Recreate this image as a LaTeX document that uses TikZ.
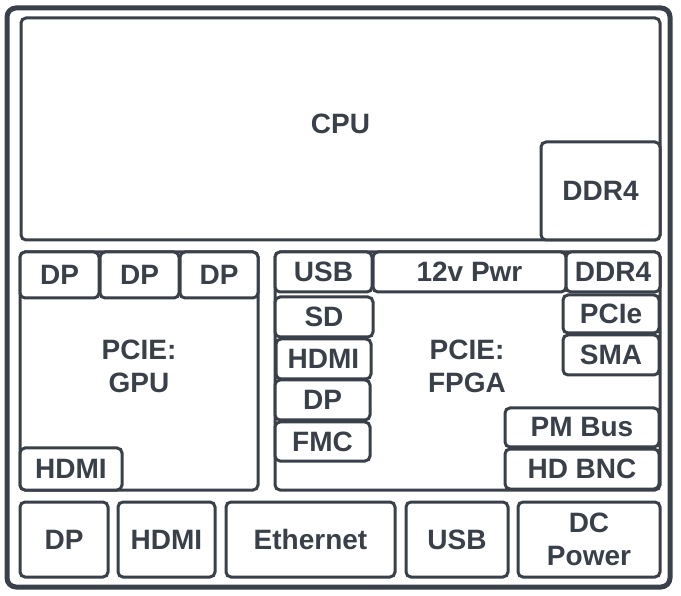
\documentclass[tikz,border=0pt]{standalone}
\usepackage{fontspec}
\setmainfont{Liberation Sans}
\definecolor{ink}{HTML}{3A4049}
\tikzset{
  box/.style={draw=ink, line width=3pt, rounded corners=5pt, fill=white, text=ink,
    font=\bfseries\fontsize{28}{33}\selectfont, align=center, inner sep=0pt},
  lbl/.style={text=ink, font=\bfseries\fontsize{28}{33}\selectfont, align=center},
  frame/.style={draw=ink, line width=5pt, rounded corners=9pt}
}
\begin{document}
\begin{tikzpicture}[x=1pt,y=-1pt]
\useasboundingbox (0,0) rectangle (681,596);
\node[frame, minimum width=663pt, minimum height=579pt] (outer) at (338.5,297.5) {};
% CPU
\node[box, minimum width=639pt, minimum height=222pt] (cpu) at (340.5,129) {};
\node[lbl] (cpulbl) at (340.5,124) {CPU};
\node[box, minimum width=119pt, minimum height=98pt] (ddrcpu) at (600.5,191) {DDR4};
% GPU
\node[box, minimum width=238pt, minimum height=238pt] (gpu) at (139,371) {};
\node[lbl] (gpulbl) at (139,366) {PCIE:\\GPU};
\node[box, minimum width=79pt, minimum height=46pt] (gdpa) at (59.5,275) {DP};
\node[box, minimum width=79pt, minimum height=46pt] (gdpb) at (139.5,275) {DP};
\node[box, minimum width=78pt, minimum height=46pt] (gdpc) at (219,275) {DP};
\node[box, minimum width=102pt, minimum height=42pt] (ghdmi) at (71,469) {HDMI};
% FPGA
\node[box, minimum width=385pt, minimum height=238pt] (fpga) at (467.5,371) {};
\node[lbl] (fpgalbl) at (467,366) {PCIE:\\FPGA};
\node[box, minimum width=97pt, minimum height=40pt] (fusb) at (323.5,272) {USB};
\node[box, minimum width=193pt, minimum height=40pt] (fpwr) at (469.5,272) {12v Pwr};
\node[box, minimum width=94pt, minimum height=40pt] (fddr) at (613,272) {DDR4};
\node[box, minimum width=98pt, minimum height=40pt] (fsd) at (324,317) {SD};
\node[box, minimum width=95pt, minimum height=40pt] (fhdmi) at (323.5,359) {HDMI};
\node[box, minimum width=95pt, minimum height=40pt] (fdp) at (322.5,400) {DP};
\node[box, minimum width=95pt, minimum height=39pt] (ffmc) at (322.5,441.5) {FMC};
\node[box, minimum width=96pt, minimum height=38pt] (fpcie) at (611,314) {PCIe};
\node[box, minimum width=96pt, minimum height=40pt] (fsma) at (611,355) {SMA};
\node[box, minimum width=154pt, minimum height=39pt] (fpm) at (582,427.5) {PM Bus};
\node[box, minimum width=154pt, minimum height=40pt] (fbnc) at (582,469) {HD BNC};
% bottom row
\node[box, minimum width=88pt, minimum height=75pt] (bdp) at (64,539.5) {DP};
\node[box, minimum width=97pt, minimum height=75pt] (bhdmi) at (166.5,539.5) {HDMI};
\node[box, minimum width=169pt, minimum height=75pt] (beth) at (310.5,539.5) {Ethernet};
\node[box, minimum width=102pt, minimum height=75pt] (busb) at (457,539.5) {USB};
\node[box, minimum width=142pt, minimum height=75pt] (bdc) at (589,539.5) {DC\\Power};
\end{tikzpicture}
\end{document}
